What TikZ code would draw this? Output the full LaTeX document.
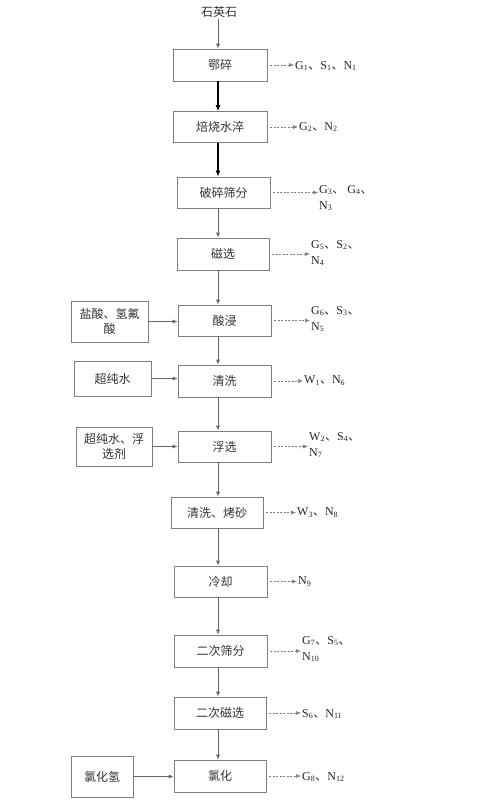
\documentclass[tikz,border=0pt]{standalone}
\usepackage{fontspec}
\setmainfont{Liberation Serif}
\newfontfamily\cjk{Noto Sans CJK SC}
\usetikzlibrary{arrows.meta}
\newcommand{\dn}{{\cjk 、}}
\definecolor{boxc}{HTML}{7F7F7F}
\definecolor{txtc}{HTML}{333333}
\begin{document}
\begin{tikzpicture}[x=1pt,y=-1pt,
  box/.style={draw=boxc,line width=0.7pt,minimum width=93pt,minimum height=31pt,inner sep=1pt,
    font=\cjk\fontsize{12}{15}\selectfont,text=txtc,align=center},
  sidebox/.style={box,minimum width=77pt},
  lab/.style={inner sep=0pt,font=\fontsize{12}{16}\selectfont,text=black!85,align=left},
  flow/.style={draw=boxc!80!black,line width=0.7pt,-{Latex[length=5pt,width=4pt]}},
  bflow/.style={draw=black,line width=1.1pt,-{Latex[length=6pt,width=5pt]}},
  darr/.style={draw=boxc,line width=0.6pt,dash pattern=on 2pt off 1.5pt,-{Latex[length=5pt,width=4pt]}}
]
\useasboundingbox (0,0) rectangle (483,806);
\coordinate (spine) at (218,0);
\node[inner sep=1pt,font=\cjk\fontsize{12}{15}\selectfont,text=txtc] (src) at (219,12) {石英石};
\node[box,minimum width=94pt,minimum height=32pt] (b1) at (220,65) {鄂碎};
\node[box,minimum width=94pt] (b2) at (220,127) {焙烧水淬};
\node[box] (b3) at (223.5,192.5) {破碎筛分};
\node[box,minimum width=92pt,minimum height=32pt] (b4) at (223,254) {磁选};
\node[box] (b5) at (224.5,320.5) {酸浸};
\node[box,minimum height=32pt] (b6) at (224.5,381) {清洗};
\node[box] (b7) at (224.5,446.5) {浮选};
\node[box,minimum width=92pt] (b8) at (217,512.5) {清洗、烤砂};
\node[box] (b9) at (220.5,581.5) {冷却};
\node[box,minimum height=32pt] (b10) at (220.5,651) {二次筛分};
\node[box,minimum width=92pt,minimum height=32pt] (b11) at (220,713) {二次磁选};
\node[box,minimum width=92pt,minimum height=32pt] (b12) at (220,776) {氯化};

\node[sidebox,minimum height=41pt] (s5) at (109.5,321.5) {盐酸、氢氟\\酸};
\node[sidebox,minimum height=35pt] (s6) at (112.5,378.5) {超纯水};
\node[sidebox,minimum width=76pt,minimum height=39pt] (s7) at (114,446.5) {超纯水、浮\\选剂};
\node[sidebox,minimum width=62pt,minimum height=41pt] (s12) at (102,776.5) {氯化氢};

% main flow
\draw[flow] (src.south -| spine) -- (b1.north -| spine);
\draw[bflow] (b1.south -| spine) -- (b2.north -| spine);
\draw[bflow] (b2.south -| spine) -- (b3.north -| spine);
\foreach \a/\b in {b3/b4,b4/b5,b5/b6,b6/b7,b7/b8,b8/b9,b9/b10,b10/b11,b11/b12}
  \draw[flow] (\a.south -| spine) -- (\b.north -| spine);

% side inputs
\draw[flow] (s5.east) -- (s5.east -| b5.west);
\draw[flow] (s6.east) -- (s6.east -| b6.west);
\draw[flow] (s7.east) -- (s7.east -| b7.west);
\draw[flow] (s12.east) -- (s12.east -| b12.west);

% emission labels
\node[lab,anchor=west] (l1) at (295,66) {G\textsubscript{1}\dn S\textsubscript{1}\dn N\textsubscript{1}};
\node[lab,anchor=west] (l2) at (299,127) {G\textsubscript{2}\dn N\textsubscript{2}};
\node[lab,anchor=north west] (l3) at (319,185) {G\textsubscript{3}\dn\ G\textsubscript{4}\dn\\N\textsubscript{3}};
\node[lab,anchor=north west] (l4) at (311,240) {G\textsubscript{5}\dn S\textsubscript{2}\dn\\N\textsubscript{4}};
\node[lab,anchor=north west] (l5) at (311,306) {G\textsubscript{6}\dn S\textsubscript{3}\dn\\N\textsubscript{5}};
\node[lab,anchor=west] (l6) at (304,381) {W\textsubscript{1}\dn N\textsubscript{6}};
\node[lab,anchor=north west] (l7) at (309,432) {W\textsubscript{2}\dn S\textsubscript{4}\dn\\N\textsubscript{7}};
\node[lab,anchor=west] (l8) at (297,513) {W\textsubscript{3}\dn N\textsubscript{8}};
\node[lab,anchor=west] (l9) at (298,582) {N\textsubscript{9}};
\node[lab,anchor=north west] (l10) at (302,636) {G\textsubscript{7}\dn S\textsubscript{5}\dn\\N\textsubscript{10}};
\node[lab,anchor=west] (l11) at (302,714) {S\textsubscript{6}\dn N\textsubscript{11}};
\node[lab,anchor=west] (l12) at (302,777) {G\textsubscript{8}\dn N\textsubscript{12}};

\foreach \b/\l in {b1/l1,b2/l2,b3/l3,b4/l4,b5/l5,b6/l6,b7/l7,b8/l8,b9/l9,b10/l10,b11/l11,b12/l12}
  \draw[darr] ([xshift=3pt]\b.east) -- ([xshift=-1pt]\b.east -| \l.west);
\end{tikzpicture}
\end{document}
